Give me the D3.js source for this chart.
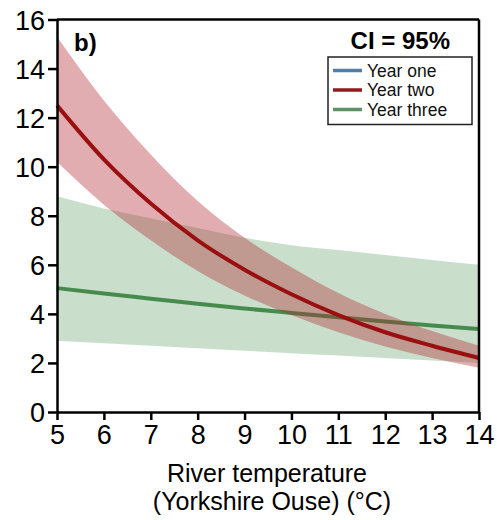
<!DOCTYPE html>
<html>
<head>
<meta charset="utf-8">
<script src="https://cdn.jsdelivr.net/npm/d3@7"></script>
<style>
  html, body { margin: 0; padding: 0; background: #fff; }
  svg { display: block; font-family: "Liberation Sans", Arial, sans-serif; }
</style>
</head>
<body>
<svg id="chart" width="497" height="520"></svg>
<script>
// River temperature (°C) at which the fitted curves are read
const temperature = [5, 6, 7, 8, 9, 10, 11, 12, 13, 14];

// Year two: fitted mean and 95% confidence limits
const yearTwoMean  = [12.5, 10.3, 8.5, 7.0, 5.8, 4.8, 3.95, 3.25, 2.7, 2.2];
const yearTwoUpper = [15.3, 12.7, 10.5, 8.6, 7.1, 5.9, 4.85, 4.0, 3.3, 2.7];
const yearTwoLower = [10.2, 8.45, 7.0, 5.75, 4.75, 3.95, 3.25, 2.67, 2.2, 1.8];

// Year three: fitted mean and 95% confidence limits
const yearThreeMean  = [5.05, 4.83, 4.62, 4.41, 4.22, 4.04, 3.86, 3.69, 3.53, 3.38];
const yearThreeUpper = [8.8, 8.3, 7.9, 7.5, 7.1, 6.8, 6.6, 6.4, 6.2, 6.0];
const yearThreeLower = [2.9, 2.8, 2.7, 2.6, 2.5, 2.4, 2.3, 2.2, 2.1, 2.0];

const xTicks = [5, 6, 7, 8, 9, 10, 11, 12, 13, 14];
const yTicks = [0, 2, 4, 6, 8, 10, 12, 14, 16];

const legendLabels = ["Year one", "Year two", "Year three"];
const legendColors = ["#4f7fa6", "#8e1b1f", "#5f9167"];

const svg = d3.select("#chart");

const x = d3.scaleLinear().domain([5, 14]).range([57, 479]);
const y = d3.scaleLinear().domain([0, 16]).range([412, 19.5]);

const rows = (mean, lo, hi) => temperature.map((t, i) => ({ t, m: mean[i], lo: lo[i], hi: hi[i] }));
const two = rows(yearTwoMean, yearTwoLower, yearTwoUpper);
const three = rows(yearThreeMean, yearThreeLower, yearThreeUpper);

const area = d3.area().x(d => x(d.t)).y0(d => y(d.lo)).y1(d => y(d.hi)).curve(d3.curveMonotoneX);
const line = d3.line().x(d => x(d.t)).y(d => y(d.m)).curve(d3.curveMonotoneX);

// Confidence bands and fitted curves
svg.append("path").datum(three).attr("d", area)
  .attr("fill", "rgb(61,140,70)").attr("fill-opacity", 0.28);
svg.append("path").datum(three).attr("d", line)
  .attr("fill", "none").attr("stroke", "#458b4d").attr("stroke-width", 4);
svg.append("path").datum(two).attr("d", area)
  .attr("fill", "rgb(180,40,50)").attr("fill-opacity", 0.38);
svg.append("path").datum(two).attr("d", line)
  .attr("fill", "none").attr("stroke", "#9a1010").attr("stroke-width", 4);

// Axes
const yAxis = svg.append("g").attr("transform", "translate(57,0)")
  .call(d3.axisLeft(y).tickValues(yTicks).tickSize(9).tickPadding(3).tickSizeOuter(0));
const xAxis = svg.append("g").attr("transform", "translate(0,412)")
  .call(d3.axisBottom(x).tickValues(xTicks).tickSize(8).tickPadding(4).tickSizeOuter(0));

[yAxis, xAxis].forEach(g => {
  g.select(".domain").attr("stroke", "#000").attr("stroke-width", 2.5);
  g.selectAll(".tick line").attr("stroke", "#000").attr("stroke-width", 2.5);
  g.selectAll(".tick text").attr("fill", "#000")
    .style("font-size", "27px").style("font-family", "'Liberation Sans', Arial, sans-serif");
});
yAxis.selectAll(".tick text").attr("dy", "0.36em");
xAxis.selectAll(".tick text").attr("dy", "0.75em");

// Top and right frame
svg.append("line").attr("x1", x(5)).attr("x2", x(14)).attr("y1", y(16)).attr("y2", y(16))
  .attr("stroke", "#000").attr("stroke-width", 2.5);
svg.append("line").attr("x1", x(14)).attr("x2", x(14)).attr("y1", y(16)).attr("y2", y(0))
  .attr("stroke", "#000").attr("stroke-width", 2.5);

// Axis title, two lines
svg.append("text").attr("text-anchor", "middle").attr("font-size", 25).attr("fill", "#000")
  .attr("x", 267).attr("y", 482).text("River temperature");
svg.append("text").attr("text-anchor", "middle").attr("font-size", 25).attr("fill", "#000")
  .attr("x", 272).attr("y", 510).text("(Yorkshire Ouse) (°C)");

// Panel letter and confidence note
svg.append("text").attr("x", 74).attr("y", 51).attr("font-size", 24).attr("font-weight", "bold").text("b)");
svg.append("text").attr("x", 450).attr("y", 49).attr("text-anchor", "end")
  .attr("font-size", 24).attr("font-weight", "bold").text("CI = 95%");

// Legend
const legend = svg.append("g");
legend.append("rect").attr("x", 328).attr("y", 57).attr("width", 144).attr("height", 67.5)
  .attr("fill", "#fff").attr("stroke", "#222").attr("stroke-width", 1.5);
legendLabels.forEach((lab, i) => {
  const cy = 70.5 + i * 19.5;
  legend.append("line").attr("x1", 333).attr("x2", 362).attr("y1", cy).attr("y2", cy)
    .attr("stroke", legendColors[i]).attr("stroke-width", 3.5);
  legend.append("text").attr("x", 367).attr("y", cy).attr("dy", "0.36em")
    .attr("font-size", 17.5).attr("fill", "#111").text(lab);
});
</script>
</body>
</html>
